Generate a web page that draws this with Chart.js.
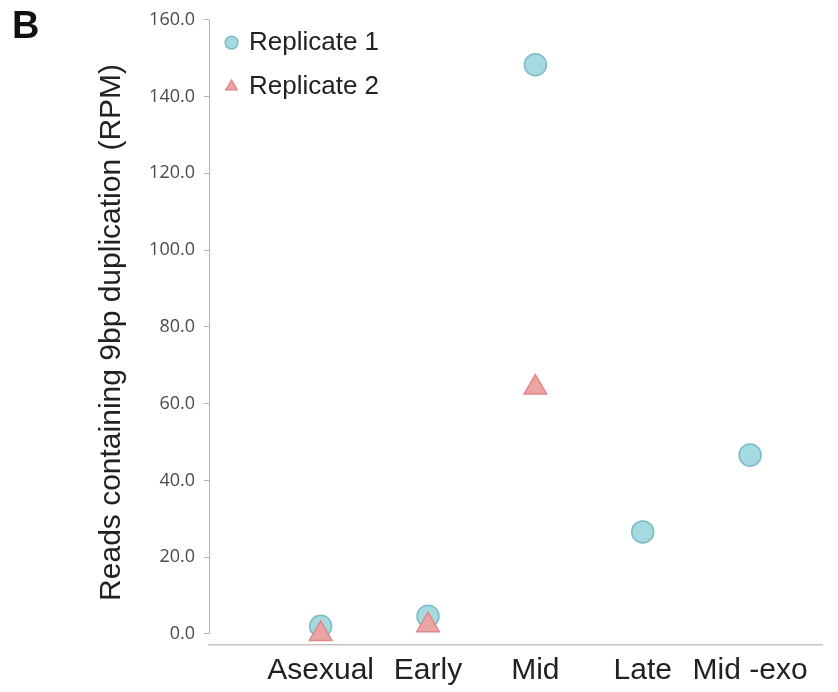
<!DOCTYPE html>
<html>
<head>
<meta charset="utf-8">
<script src="https://cdn.jsdelivr.net/npm/chart.js@4.4.1/dist/chart.umd.min.js"></script>
<style>
  html, body { margin: 0; padding: 0; background: #fff; }
  #wrap { position: relative; width: 838px; height: 692px; }
  #panel { position: absolute; left: 12px; top: 4px; font: bold 38px "Liberation Sans", Arial, sans-serif; color: #111; }
</style>
</head>
<body>
<div id="wrap">
  <canvas id="myChart" width="838" height="692"></canvas>
  <div id="panel">B</div>
</div>
<script>
// categories on the x axis
let categories = ['Asexual', 'Early', 'Mid', 'Late', 'Mid -exo']
// reads containing 9bp duplication (RPM)
let replicate1 = [2.0, 4.6, 148.3, 26.6, 46.6]
let replicate2 = [0.0, 2.3, 64.2, null, null]
let yTicks = [0, 20, 40, 60, 80, 100, 120, 140, 160]

const toPoints = (vals) => vals.map((v, i) => ({ x: i + 1, y: v }))
const sans = '"Liberation Sans", Arial, sans-serif'

// y axis line only runs from 0 to 160, so draw it by hand
const yAxisLine = {
  id: 'yAxisLine',
  afterDraw(chart) {
    const { ctx, scales: { y } } = chart
    ctx.save()
    ctx.strokeStyle = '#b5b5b5'
    ctx.lineWidth = 1
    ctx.beginPath()
    ctx.moveTo(y.right + 0.5, y.getPixelForValue(160))
    ctx.lineTo(y.right + 0.5, y.getPixelForValue(0))
    ctx.stroke()
    ctx.restore()
  }
}

const ctx = document.getElementById('myChart')

new Chart(ctx, {
  type: 'scatter',
  data: {
    datasets: [{
      label: 'Replicate 1',
      data: toPoints(replicate1),
      order: 1,
      pointStyle: 'circle',
      pointRadius: 11,
      pointHoverRadius: 11,
      backgroundColor: '#a6dae1',
      borderColor: '#7dbcc6',
      borderWidth: 1.5,
      clip: false
    }, {
      label: 'Replicate 2',
      data: toPoints(replicate2),
      order: 0,
      pointStyle: 'triangle',
      pointRadius: 13,
      pointHoverRadius: 13,
      backgroundColor: '#eba4a4',
      borderColor: '#e08888',
      borderWidth: 1.5,
      clip: false
    }]
  },
  options: {
    responsive: false,
    animation: false,
    layout: { padding: { top: 15, right: 16, bottom: 4, left: 94 } },
    plugins: {
      tooltip: { enabled: false },
      legend: {
        position: 'chartArea',
        align: 'start',
        title: { display: true, text: ' ', font: { size: 8 }, padding: 1 },
        labels: {
          usePointStyle: true,
          boxWidth: 9,
          boxHeight: 9,
          padding: 18,
          color: '#222',
          font: { family: sans, size: 26 },
          sort: (a, b) => a.datasetIndex - b.datasetIndex
        }
      }
    },
    scales: {
      x: {
        type: 'linear',
        min: -0.04,
        max: 5.67,
        afterBuildTicks: (axis) => { axis.ticks = categories.map((c, i) => ({ value: i + 1 })) },
        afterFit: (axis) => { axis.height = 43 },
        grid: { display: false },
        border: { color: '#c4c4c4', width: 1.5 },
        ticks: {
          autoSkip: false,
          maxRotation: 0,
          padding: 0,
          color: '#222',
          font: { family: sans, size: 30 },
          callback: (v) => categories[v - 1]
        }
      },
      y: {
        min: -2.87,
        max: 160,
        afterBuildTicks: (axis) => { axis.ticks = yTicks.map((v) => ({ value: v })) },
        afterFit: (axis) => { axis.width = 115 },
        border: { display: false },
        grid: { drawOnChartArea: false, drawTicks: true, tickLength: 5, color: '#b5b5b5' },
        ticks: {
          padding: 9,
          color: '#4a4a4a',
          font: { family: '"Open Sans", sans-serif', size: 18 },
          callback: (v) => v.toFixed(1)
        },
        title: {
          display: true,
          text: 'Reads containing 9bp duplication (RPM)',
          color: '#222',
          font: { family: sans, size: 30 },
          padding: { top: 0, bottom: 2 }
        }
      }
    }
  },
  plugins: [yAxisLine]
})
</script>
</body>
</html>
